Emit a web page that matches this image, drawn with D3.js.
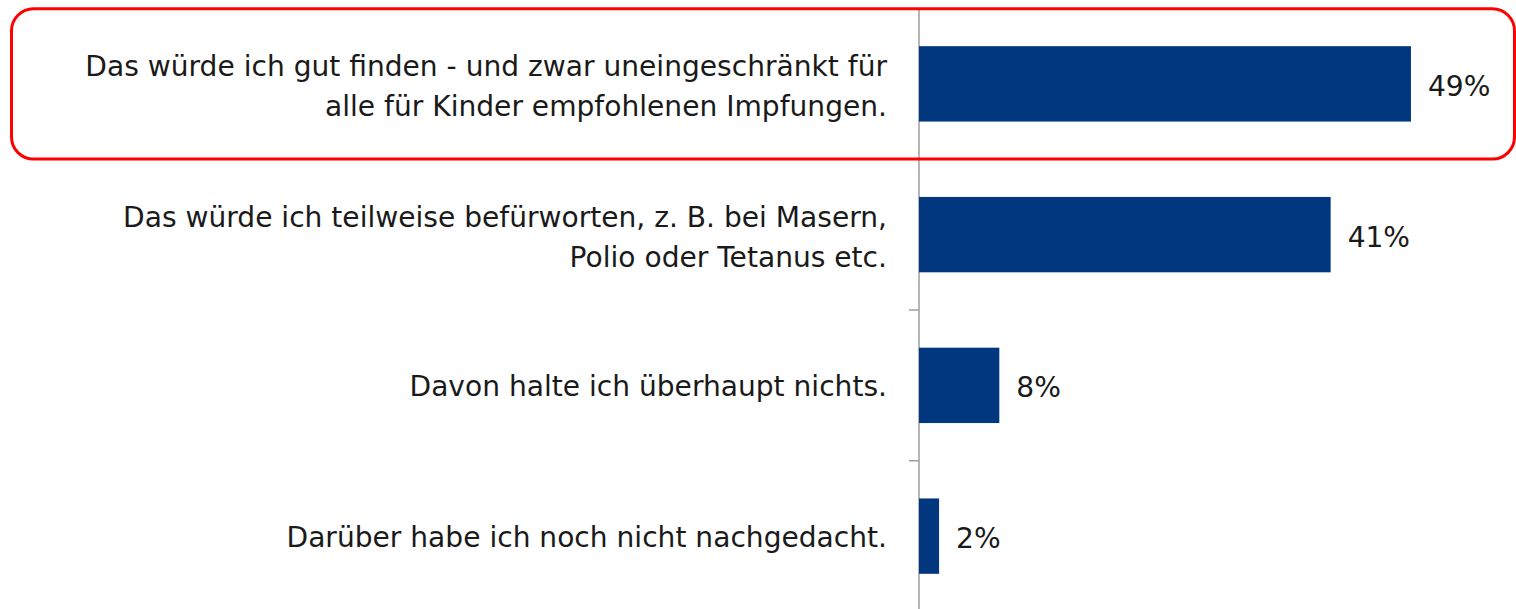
<!DOCTYPE html>
<html>
<head>
<meta charset="utf-8">
<script src="https://cdn.jsdelivr.net/npm/d3@7"></script>
<style>
  html, body { margin: 0; padding: 0; background: #fff; }
  svg { display: block; }
  text { font-family: "DejaVu Sans", sans-serif; fill: #1a1a1a; }
</style>
</head>
<body>
<svg id="chart" width="1516" height="609"></svg>
<script>
const categories = [
  ["Das würde ich gut finden - und zwar uneingeschränkt für", "alle für Kinder empfohlenen Impfungen."],
  ["Das würde ich teilweise befürworten, z. B. bei Masern,", "Polio oder Tetanus etc."],
  ["Davon halte ich überhaupt nichts."],
  ["Darüber habe ich noch nicht nachgedacht."]
];
const values = [49, 41, 8, 2];
const valueLabels = ["49%", "41%", "8%", "2%"];
const highlighted = [0];

const svg = d3.select("#chart");
const FS = 28.1;

const x = d3.scaleLinear().domain([0, 100]).range([919, 1923]);
const y = d3.scaleBand()
  .domain(d3.range(categories.length))
  .range([8.5, 611.5])
  .paddingInner(0.5)
  .paddingOuter(0.25);

// axis line + boundary ticks
svg.append("line")
  .attr("x1", x(0)).attr("x2", x(0))
  .attr("y1", 10).attr("y2", 609)
  .attr("stroke", "#9e9e9e").attr("stroke-width", 1.5);

d3.range(1, categories.length).forEach(i => {
  const yy = y.range()[0] + i * y.step();
  svg.append("line")
    .attr("x1", x(0) - 10).attr("x2", x(0))
    .attr("y1", yy).attr("y2", yy)
    .attr("stroke", "#9e9e9e").attr("stroke-width", 1.5);
});

// bars
svg.selectAll("rect.bar")
  .data(values)
  .join("rect")
  .attr("class", "bar")
  .attr("x", x(0))
  .attr("y", (d, i) => y(i))
  .attr("width", d => x(d) - x(0))
  .attr("height", y.bandwidth())
  .attr("fill", "#00377f");

// value labels
svg.selectAll("text.val")
  .data(values)
  .join("text")
  .attr("class", "val")
  .attr("x", d => x(d) + 17)
  .attr("y", (d, i) => y(i) + y.bandwidth() / 2 + 12)
  .attr("font-size", FS)
  .text((d, i) => valueLabels[i]);

// category labels
const lh = 40;
categories.forEach((lines, i) => {
  const c = y(i) + y.bandwidth() / 2;
  const first = lines.length === 1 ? c + 11 : c - 8;
  const t = svg.append("text")
    .attr("text-anchor", "end")
    .attr("font-size", FS);
  lines.forEach((ln, k) => {
    t.append("tspan")
      .attr("x", 887)
      .attr("y", first + k * lh)
      .text(ln);
  });
});

// highlight box
highlighted.forEach(i => {
  const top = y.range()[0] + i * y.step();
  svg.append("rect")
    .attr("x", 11.5)
    .attr("y", top + 0.3)
    .attr("width", 1503)
    .attr("height", y.step() - 0.5)
    .attr("rx", 22).attr("ry", 22)
    .attr("fill", "none")
    .attr("stroke", "#ff0000")
    .attr("stroke-width", 3);
});
</script>
</body>
</html>
